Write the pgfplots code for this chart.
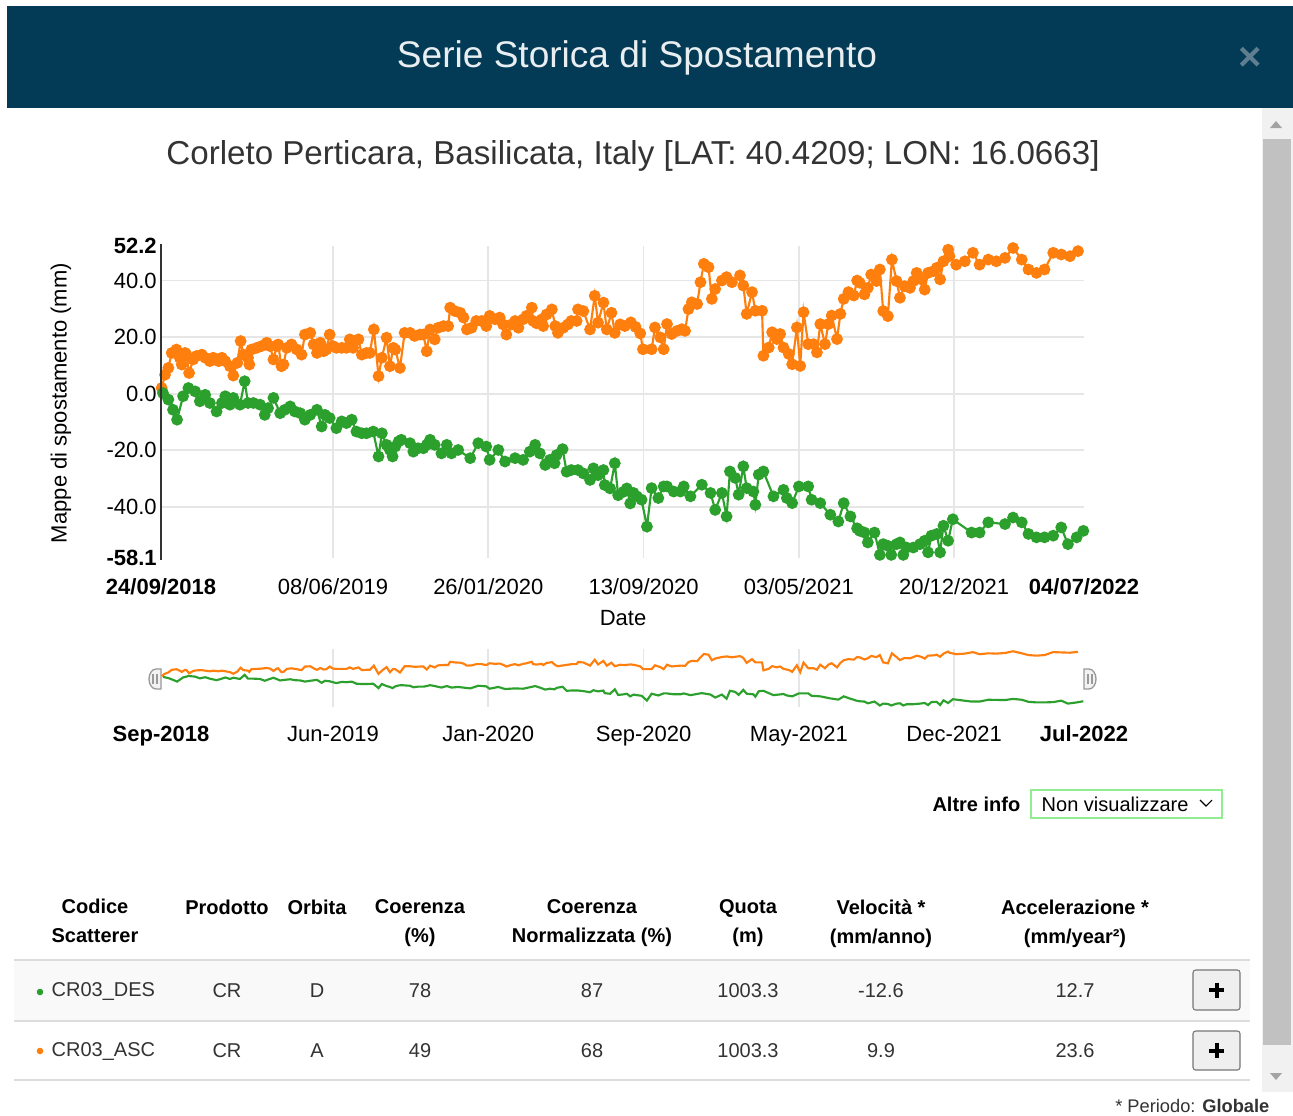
\documentclass[border=0pt]{standalone}
\usepackage{fontspec}
\setmainfont{Liberation Sans}
\usepackage{pgfplots}
\pgfplotsset{compat=1.18}
\usepackage{pgfplotstable}
\definecolor{asc}{HTML}{FF7F0E}
\definecolor{des}{HTML}{2CA02C}
\definecolor{hdr}{HTML}{033A56}
\definecolor{hdrtext}{HTML}{E9EEF1}
\definecolor{closex}{HTML}{5F7E90}
\definecolor{gridc}{HTML}{E6E6E6}
\definecolor{axisc}{HTML}{333333}
\definecolor{txt}{HTML}{333333}
\definecolor{rowbg}{HTML}{F9F9F9}
\definecolor{rulec}{HTML}{DDDDDD}
\definecolor{track}{HTML}{F1F1F1}
\definecolor{thumb}{HTML}{C1C1C1}
\definecolor{arrowc}{HTML}{A3A3A3}
\definecolor{selbox}{HTML}{90EE90}
\definecolor{btnfill}{HTML}{EFEFEF}
\definecolor{btnline}{HTML}{767676}
\definecolor{handlefill}{HTML}{F2F2F2}
\definecolor{handleline}{HTML}{999999}

% ascending orbit (days since 24/09/2018, mm)
\pgfplotstableread[row sep=\\]{
day mm\\
1 2.0\\ 6 6.7\\ 11 9.1\\ 16 14.4\\ 23 15.6\\ 28 12.7\\ 31 10.3\\ 36 14.4\\ 38 13.8\\ 42 7.3\\
48 12.1\\ 53 13.3\\ 61 13.8\\ 66 12.7\\ 73 11.5\\ 78 12.7\\ 86 11.5\\ 91 12.7\\ 96 11.5\\ 103 9.7\\
108 6.4\\ 114 10.9\\ 119 18.6\\ 123 13.8\\ 130 12.7\\ 132 10.3\\ 135 15.6\\ 143 16.2\\ 150 16.8\\ 158 18.0\\
163 16.8\\ 168 12.1\\ 173 16.8\\ 175 17.4\\ 180 9.7\\ 183 10.3\\ 188 16.2\\ 195 17.4\\ 203 15.6\\ 210 13.8\\
215 20.9\\ 223 21.5\\ 228 17.4\\ 233 14.4\\ 238 18.0\\ 243 15.0\\ 247 15.6\\ 252 20.9\\ 257 16.8\\ 262 16.2\\
270 16.2\\ 277 16.2\\ 282 19.2\\ 287 16.2\\ 295 19.2\\ 300 13.8\\ 307 14.4\\ 312 14.4\\ 318 22.7\\ 325 6.2\\
330 12.7\\ 337 19.8\\ 342 9.7\\ 347 16.2\\ 350 15.6\\ 357 9.1\\ 364 21.5\\ 372 21.5\\ 379 20.4\\ 387 20.9\\
392 20.9\\ 397 15.0\\ 402 22.7\\ 409 19.2\\ 414 23.3\\ 422 23.9\\ 429 23.9\\ 432 30.4\\ 439 29.2\\ 447 28.6\\
452 26.9\\ 457 22.7\\ 464 23.3\\ 471 25.7\\ 479 25.7\\ 486 23.9\\ 491 27.5\\ 499 26.3\\ 506 26.9\\ 511 24.5\\
516 20.9\\ 524 24.5\\ 529 25.7\\ 534 23.3\\ 541 26.3\\ 546 27.5\\ 554 30.4\\ 556 25.7\\ 561 24.9\\ 569 26.3\\
571 23.9\\ 576 28.0\\ 584 29.8\\ 589 23.9\\ 593 21.5\\ 601 23.3\\ 608 24.5\\ 613 25.7\\ 621 25.7\\ 623 29.8\\
631 29.2\\ 641 22.7\\ 648 34.6\\ 653 25.1\\ 661 32.2\\ 666 22.7\\ 673 28.6\\ 678 21.5\\ 686 24.5\\ 693 23.9\\
702 25.2\\ 709 23.6\\ 716 21.3\\ 720 15.7\\ 733 15.7\\ 738 23.4\\ 746 19.9\\ 751 15.7\\ 756 24.6\\ 763 21.1\\
771 22.2\\ 778 22.8\\ 783 22.2\\ 788 29.9\\ 793 32.3\\ 801 31.7\\ 806 39.4\\ 811 45.9\\ 818 44.7\\ 823 33.5\\
828 37.0\\ 838 40.0\\ 845 41.2\\ 853 39.4\\ 865 41.8\\ 870 38.2\\ 875 28.2\\ 883 35.9\\ 888 29.3\\ 898 29.3\\
900 13.4\\ 908 16.3\\ 913 21.7\\ 920 19.3\\ 925 21.1\\ 930 16.3\\ 938 14.0\\ 943 10.4\\ 950 23.4\\ 955 9.8\\
960 28.8\\ 967 17.5\\ 975 17.5\\ 980 14.6\\ 985 24.6\\ 992 17.5\\ 997 24.6\\ 1002 27.6\\ 1010 19.3\\ 1015 28.2\\
1020 33.5\\ 1027 35.9\\ 1035 34.7\\ 1040 40.0\\ 1044 39.2\\ 1051 35.1\\ 1056 37.4\\ 1061 42.1\\ 1069 39.8\\ 1074 43.9\\
1079 29.2\\ 1086 27.4\\ 1092 47.4\\ 1099 39.8\\ 1104 33.9\\ 1111 38.0\\ 1119 37.4\\ 1124 39.8\\ 1129 42.7\\ 1136 40.4\\
1141 36.8\\ 1146 42.7\\ 1154 43.3\\ 1159 44.5\\ 1164 40.4\\ 1169 46.8\\ 1176 50.9\\ 1178 48.6\\ 1188 45.6\\ 1201 46.8\\
1213 49.8\\ 1223 45.6\\ 1236 47.4\\ 1248 46.8\\ 1261 48.0\\ 1273 51.5\\ 1286 47.4\\ 1296 43.9\\ 1308 42.7\\ 1320 43.9\\
1333 49.8\\ 1345 49.2\\ 1358 48.6\\ 1370 50.4\\
}\ascdata

% descending orbit
\pgfplotstableread[row sep=\\]{
day mm\\
3 0.2\\ 11 -2.1\\ 18 -5.7\\ 24 -9.2\\ 33 -0.9\\ 41 2.0\\ 51 0.8\\ 58 -2.7\\ 66 -0.4\\ 73 -3.3\\
83 -6.3\\ 91 -3.3\\ 96 -0.9\\ 103 -3.9\\ 108 -1.5\\ 118 -3.9\\ 125 4.4\\ 130 -3.3\\ 138 -3.3\\ 148 -3.9\\
155 -7.5\\ 160 -5.1\\ 168 -1.5\\ 178 -6.9\\ 185 -5.7\\ 193 -4.5\\ 200 -6.3\\ 208 -6.9\\ 215 -9.2\\ 223 -7.5\\
233 -5.7\\ 240 -11.6\\ 245 -7.5\\ 252 -8.6\\ 262 -12.2\\ 270 -9.8\\ 277 -10.4\\ 285 -9.2\\ 292 -13.4\\ 300 -14.0\\
307 -14.0\\ 317 -13.4\\ 325 -22.2\\ 330 -14.0\\ 337 -18.1\\ 342 -19.9\\ 346 -22.2\\ 350 -18.7\\ 355 -16.9\\ 359 -16.3\\
372 -17.5\\ 377 -20.5\\ 384 -19.3\\ 392 -19.3\\ 397 -18.1\\ 402 -16.3\\ 409 -18.1\\ 419 -21.1\\ 427 -18.1\\ 434 -21.1\\
444 -19.9\\ 462 -22.8\\ 474 -17.5\\ 486 -18.7\\ 491 -23.4\\ 504 -19.9\\ 514 -24.0\\ 529 -22.8\\ 541 -23.4\\ 551 -20.5\\
559 -18.1\\ 566 -21.1\\ 574 -25.2\\ 581 -23.4\\ 588 -24.6\\ 591 -21.7\\ 600 -19.6\\ 606 -27.6\\ 613 -27.0\\ 623 -27.0\\
631 -28.2\\ 641 -30.5\\ 646 -26.4\\ 653 -28.8\\ 661 -27.0\\ 663 -32.3\\ 671 -33.5\\ 678 -24.6\\ 683 -35.9\\ 691 -34.7\\
696 -33.5\\ 701 -38.8\\ 706 -35.1\\ 711 -36.3\\ 718 -37.5\\ 726 -47.0\\ 733 -33.4\\ 743 -36.9\\ 751 -32.8\\ 756 -32.8\\
766 -34.6\\ 776 -34.6\\ 781 -32.8\\ 791 -36.3\\ 808 -32.2\\ 821 -35.1\\ 828 -41.1\\ 838 -35.1\\ 845 -43.4\\ 850 -27.5\\
858 -29.8\\ 863 -35.7\\ 870 -25.7\\ 875 -33.4\\ 885 -34.6\\ 888 -39.3\\ 893 -28.6\\ 900 -27.5\\ 915 -36.3\\ 930 -34.0\\
935 -36.9\\ 943 -38.7\\ 953 -32.8\\ 967 -32.8\\ 972 -37.5\\ 985 -38.7\\ 1000 -42.8\\ 1012 -45.2\\ 1020 -38.7\\ 1030 -43.4\\
1040 -47.6\\ 1044 -48.5\\ 1051 -49.1\\ 1056 -52.6\\ 1066 -49.1\\ 1074 -57.0\\ 1079 -53.2\\ 1086 -53.8\\ 1091 -57.0\\ 1099 -53.2\\
1104 -52.6\\ 1109 -57.0\\ 1114 -54.4\\ 1124 -54.4\\ 1134 -53.2\\ 1141 -52.0\\ 1146 -56.1\\ 1151 -50.2\\ 1159 -49.6\\ 1164 -56.1\\
1169 -46.7\\ 1176 -52.0\\ 1183 -44.4\\ 1211 -49.1\\ 1223 -49.1\\ 1236 -45.5\\ 1261 -46.1\\ 1273 -43.8\\ 1286 -45.5\\ 1296 -49.6\\
1308 -50.8\\ 1320 -50.8\\ 1333 -50.2\\ 1345 -47.3\\ 1355 -53.2\\ 1368 -50.8\\ 1378 -48.5\\
}\desdata

\newcommand{\fs}[1]{\fontsize{#1}{1.2\dimexpr#1pt\relax}\selectfont}

\begin{document}
\begin{tikzpicture}[x=0.75pt,y=-0.75pt]
\path[use as bounding box] (0,0) rectangle (1293,1115);
\fill[white] (0,0) rectangle (1293,1115);

% header bar
\fill[hdr] (7,6) rectangle (1293,108);
\node[text=hdrtext, font=\fs{27.8}] at (637,58) {Serie Storica di Spostamento};
\node[text=closex, font=\bfseries\fs{30}] at (1250,59) {×};

% scrollbar
\fill[track] (1262,108) rectangle (1293,1092);
\fill[thumb] (1263,139) rectangle (1291,1045);
\fill[arrowc] (1270,128) -- (1282,128) -- (1276,121) -- cycle;
\fill[arrowc] (1270,1073) -- (1282,1073) -- (1276,1080) -- cycle;

% subtitle
\node[text=txt, font=\fs{24.85}] at (633,156) {Corleto Perticara, Basilicata, Italy [LAT: 40.4209; LON: 16.0663]};

% main chart (plot box 161..1084 x 246..558 px)
\begin{axis}[
  at={(120.75pt,-418.5pt)}, anchor=south west,
  width=692.25pt, height=234pt, scale only axis,
  xmin=0, xmax=1379, ymin=-58.1, ymax=52.2,
  axis line style={draw=none},
  major tick length=0pt,
  xtick={257,489,721,953,1185},
  xticklabels={08/06/2019,26/01/2020,13/09/2020,03/05/2021,20/12/2021},
  extra x ticks={0,1379},
  extra x tick labels={\textbf{24/09/2018},\textbf{04/07/2022}},
  ytick={-40,-20,0,20,40},
  yticklabels={-40.0,-20.0,0.0,20.0,40.0},
  extra y ticks={-58.1,52.2},
  extra y tick labels={\textbf{-58.1},\textbf{52.2}},
  extra tick style={grid=none},
  grid=major,
  major grid style={gridc, line width=1.3pt},
  tick label style={font=\fs{16.5}, text=black},
  xticklabel style={anchor=base, yshift=-27pt, inner sep=0pt},
  yticklabel style={anchor=east, xshift=-3pt, inner sep=0pt},
]
\addplot[asc, line width=1.6pt, mark=*, mark size=3.6pt] table[x=day, y=mm] {\ascdata};
\addplot[des, line width=1.6pt, mark=*, mark size=3.6pt] table[x=day, y=mm] {\desdata};
\end{axis}
\draw[axisc, line width=1pt] (161,244) -- (161,560);
\node[font=\fs{16.5}] at (623,618) {Date};
\node[rotate=90, font=\fs{16.5}] at (61,403) {Mappe di spostamento (mm)};

% navigator (plot box 161..1084 x 649..707 px)
\begin{axis}[
  at={(120.75pt,-530.25pt)}, anchor=south west,
  width=692.25pt, height=43.5pt, scale only axis,
  xmin=0, xmax=1379, ymin=-60, ymax=56,
  axis line style={draw=none},
  major tick length=0pt,
  ytick=\empty,
  xtick={257,489,721,953,1185},
  xticklabels={Jun-2019,Jan-2020,Sep-2020,May-2021,Dec-2021},
  extra x ticks={0,1379},
  extra x tick labels={\textbf{Sep-2018},\textbf{Jul-2022}},
  extra x tick style={grid=none},
  xmajorgrids,
  major grid style={gridc, line width=1.3pt},
  tick label style={font=\fs{16.5}, text=black},
  xticklabel style={anchor=base, yshift=-25.5pt, inner sep=0pt},
]
\addplot[asc, line width=1.6pt] table[x=day, y=mm] {\ascdata};
\addplot[des, line width=1.6pt] table[x=day, y=mm] {\desdata};
\end{axis}
% navigator handles
\filldraw[fill=handlefill, draw=handleline, line width=1pt]
  (161,689) -- (156,689) arc[start angle=90, end angle=270, x radius=7, y radius=10] -- (161,669) -- cycle;
\draw[handleline, line width=0.8pt] (153,674) -- (153,684) (157,674) -- (157,684);
\filldraw[fill=handlefill, draw=handleline, line width=1pt]
  (1084,669) -- (1089,669) arc[start angle=270, end angle=450, x radius=7, y radius=10] -- (1084,689) -- cycle;
\draw[handleline, line width=0.8pt] (1088,674) -- (1088,684) (1092,674) -- (1092,684);

% altre info
\node[anchor=east, font=\bfseries\fs{15}, text=black] at (1025,804) {Altre info};
\draw[selbox, line width=1.2pt] (1031,790) rectangle (1222,818);
\node[anchor=west, font=\fs{15}, text=black] at (1037,804) {Non visualizzare};
\draw[black, line width=0.8pt] (1200,800) -- (1206,806) -- (1212,800);

% table
\begin{scope}[every node/.style={font=\bfseries\fs{15}, text=black, align=center}]
\node[font=\bfseries\fontsize{15}{21.75}\selectfont] at (95,921) {Codice\\Scatterer};
\node at (227,907) {Prodotto};
\node at (317,907) {Orbita};
\node[font=\bfseries\fontsize{15}{21.75}\selectfont] at (420,923.5) {Coerenza\\(\%)};
\node[font=\bfseries\fontsize{15}{21.75}\selectfont] at (592,923.5) {Coerenza\\Normalizzata (\%)};
\node[font=\bfseries\fontsize{15}{21.75}\selectfont] at (748,923.5) {Quota\\(m)};
\node[font=\bfseries\fontsize{15}{21.75}\selectfont] at (881,923.5) {Velocità *\\(mm/anno)};
\node[font=\bfseries\fontsize{15}{21.75}\selectfont] at (1075,923.5) {Accelerazione *\\(mm/year²)};
\end{scope}
\fill[rowbg] (14,961) rectangle (1250,1020);
\draw[rulec, line width=1.5pt] (14,960) -- (1250,960);
\draw[rulec, line width=1pt] (14,1021) -- (1250,1021);
\draw[rulec, line width=1pt] (14,1080) -- (1250,1080);
\fill[des] (40,992) circle[radius=3.3];
\fill[asc] (40,1051) circle[radius=3.3];
\begin{scope}[every node/.style={font=\fs{15}, text=txt}]
\node[anchor=west] at (47,991) {CR03\_DES};
\node at (227,991) {CR};
\node at (317,991) {D};
\node at (420,991) {78};
\node at (592,991) {87};
\node at (748,991) {1003.3};
\node at (881,991) {-12.6};
\node at (1075,991) {12.7};
\node[anchor=west] at (47,1051) {CR03\_ASC};
\node at (227,1051) {CR};
\node at (317,1051) {A};
\node at (420,1051) {49};
\node at (592,1051) {68};
\node at (748,1051) {1003.3};
\node at (881,1051) {9.9};
\node at (1075,1051) {23.6};
\end{scope}
\filldraw[fill=btnfill, draw=btnline, line width=0.8pt, rounded corners=2pt] (1193,970) rectangle (1240,1010);
\filldraw[fill=btnfill, draw=btnline, line width=0.8pt, rounded corners=2pt] (1193,1031) rectangle (1240,1070);
\draw[black, line width=3pt] (1209,990) -- (1224,990) (1216.5,982.5) -- (1216.5,997.5);
\draw[black, line width=3pt] (1209,1050.5) -- (1224,1050.5) (1216.5,1043) -- (1216.5,1058);

\node[anchor=east, font=\fs{13.7}, text=txt] at (1274,1106) {* Periodo: \textbf{Globale}};
\end{tikzpicture}
\end{document}
